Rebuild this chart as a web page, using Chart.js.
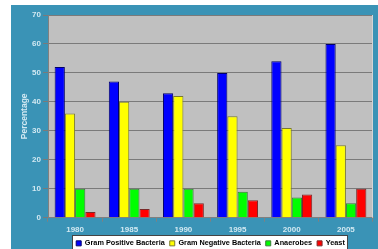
<!DOCTYPE html>
<html><head><meta charset="utf-8">
<script src="https://cdn.jsdelivr.net/npm/chart.js@4/dist/chart.umd.min.js"></script>
<style>
html,body{margin:0;padding:0;overflow:hidden;background:#fff;width:378px;height:249px}
#wrap{position:relative;width:378px;height:257px}
</style></head>
<body><div id="wrap"><canvas id="c"></canvas></div>
<script>
const years = ['1980', '1985', '1990', '1995', '2000', '2005'];
const gramPositive = [52, 47, 43, 50, 54, 60];
const gramNegative = [36, 40, 42, 35, 31, 25];
const anaerobes = [10, 10, 10, 9, 7, 5];
const yeast = [2, 3, 5, 6, 8, 10];
const seriesNames = ['Gram Positive Bacteria', 'Gram Negative Bacteria', 'Anaerobes', 'Yeast'];
const yTicks = [0, 10, 20, 30, 40, 50, 60, 70];
const yTitle = 'Percentage';

const FONT = '"Liberation Sans", Arial, sans-serif';
const TEAL = '#3a93b6';
const LBL = '#d2e9f2';

const bgPlugin = {
  id: 'bg',
  beforeDraw(chart) {
    const ctx = chart.ctx;
    ctx.save();
    ctx.fillStyle = '#fff';
    ctx.fillRect(0, 0, chart.width, chart.height);
    ctx.fillStyle = TEAL;
    ctx.fillRect(11, 5, chart.width - 11, chart.height - 5);
    const a = chart.chartArea;
    ctx.fillStyle = '#c0c0c0';
    ctx.fillRect(a.left, a.top, a.right - a.left, a.bottom - a.top);
    const lg = chart.legend;
    if (lg && lg.legendHitBoxes && lg.legendHitBoxes.length) {
      const l = Math.min(...lg.legendHitBoxes.map(h => h.left));
      const r = Math.max(...lg.legendHitBoxes.map(h => h.left + h.width));
      const x0 = Math.round(l - 4), x1 = Math.round(r + 3);
      const y0 = Math.round(lg.top);
      ctx.fillStyle = '#fff';
      ctx.fillRect(x0, y0, x1 - x0, chart.height - y0);
      ctx.strokeStyle = '#444';
      ctx.lineWidth = 1;
      ctx.strokeRect(x0 + 0.5, y0 + 0.5, x1 - x0 - 1, chart.height - y0 + 5);
    }
    ctx.restore();
  },
  afterDraw(chart) {
    const ctx = chart.ctx, a = chart.chartArea;
    ctx.save();
    ctx.strokeStyle = '#d4d4d4';
    ctx.lineWidth = 1;
    ctx.beginPath();
    ctx.moveTo(Math.round(a.right) - 0.5, a.top);
    ctx.lineTo(Math.round(a.right) - 0.5, a.bottom);
    ctx.stroke();
    ctx.restore();
  }
};

const fills = ['#0000ff', '#ffff00', '#00ff00', '#ff0000'];
const borders = ['#00006a', '#7a7a30', '#3a7a3a', '#7a2a2a'];
const values = [gramPositive, gramNegative, anaerobes, yeast];

new Chart(document.getElementById('c'), {
  type: 'bar',
  data: {
    labels: years,
    datasets: values.map((v, i) => ({
      label: seriesNames[i],
      data: v,
      backgroundColor: fills[i],
      borderColor: borders[i],
      borderWidth: 1
    }))
  },
  plugins: [bgPlugin],
  options: {
    responsive: true,
    maintainAspectRatio: false,
    animation: false,
    layout: { padding: { left: 11, top: 15, right: 5, bottom: 0 } },
    datasets: { bar: { categoryPercentage: 0.755, barPercentage: 1 } },
    plugins: {
      legend: {
        position: 'bottom',
        fullSize: false,
        labels: {
          boxWidth: 5, boxHeight: 5, padding: 5, color: '#000',
          font: { family: FONT, size: 7.3, weight: 'bold' }
        }
      },
      tooltip: { enabled: false }
    },
    scales: {
      x: {
        grid: { display: true, drawOnChartArea: false, drawTicks: true, tickLength: 4, color: '#808080', offset: true },
        border: { color: '#808080' },
        ticks: { color: LBL, font: { family: FONT, size: 8, weight: 'bold' }, padding: 3, maxRotation: 0 },
        afterFit(s) { s.height = 17; }
      },
      y: {
        min: 0, max: 70,
        afterBuildTicks(s) { s.ticks = yTicks.map(v => ({ value: v })); },
        ticks: { color: LBL, font: { family: FONT, size: 8, weight: 'bold' }, padding: 2 },
        grid: { color: '#7a7a7a', tickLength: 5 },
        border: { color: '#808080' },
        title: { display: true, text: yTitle, color: LBL, font: { family: FONT, size: 8.5, weight: 'bold' }, padding: { top: 9, bottom: 0 } },
        afterFit(s) { s.width = 37; }
      }
    }
  }
});
</script>
</body></html>
